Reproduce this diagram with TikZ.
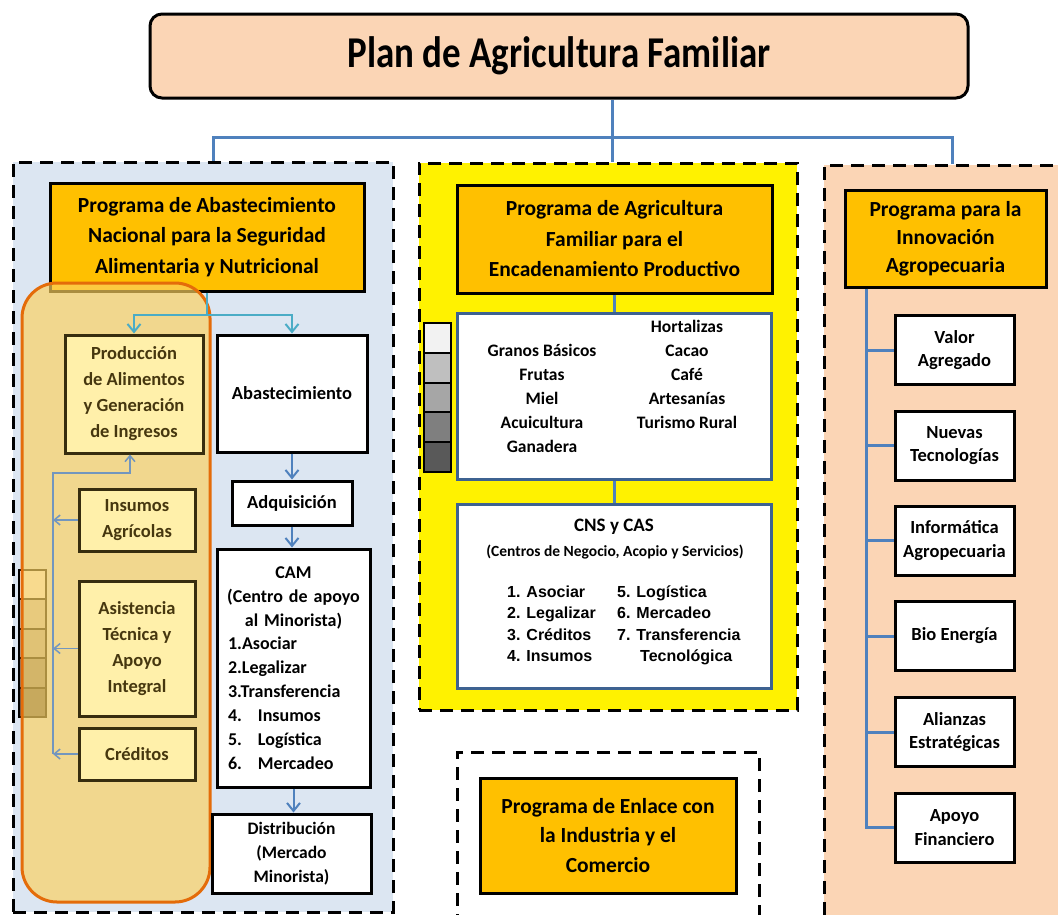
\documentclass[tikz,border=0pt]{standalone}
\usepackage{fontspec}
\setmainfont{Carlito}
\newfontfamily\arialf{Liberation Sans}
\usetikzlibrary{arrows.meta}
\definecolor{peach}{RGB}{251,213,181}
\definecolor{pblue}{RGB}{220,230,242}
\definecolor{hdr}{RGB}{255,192,0}
\definecolor{sblue}{RGB}{79,129,189}
\definecolor{cblue}{RGB}{75,172,198}
\definecolor{bborder}{RGB}{62,98,145}
\definecolor{ovfill}{RGB}{252,208,95}
\definecolor{ovline}{RGB}{228,108,10}
\definecolor{inbox}{RGB}{255,240,170}
\definecolor{inborder}{RGB}{55,45,15}
\definecolor{intext}{RGB}{70,55,15}
\definecolor{tblue}{RGB}{115,150,190}
\definecolor{g1}{RGB}{242,242,242}
\definecolor{g2}{RGB}{191,191,191}
\definecolor{g3}{RGB}{166,166,166}
\definecolor{g4}{RGB}{127,127,127}
\definecolor{g5}{RGB}{89,89,89}
\begin{document}
\begin{tikzpicture}[x=1pt,y=-1pt,
 panel/.style={draw=black, line width=3pt, dash pattern=on 13pt off 8pt, inner sep=0pt},
 hbox/.style={draw=black, line width=3pt, fill=hdr, align=center, inner sep=0pt, font=\bfseries\fontsize{21.5}{30.5}\selectfont},
 wbox/.style={draw=black, line width=3pt, fill=white, align=center, inner sep=0pt, font=\bfseries\fontsize{18.5}{23.5}\selectfont},
 ibox/.style={draw=inborder, line width=3pt, fill=inbox, align=center, inner sep=0pt, text=intext, font=\bfseries\fontsize{18.5}{26}\selectfont},
 lbox/.style={draw=bborder, line width=3pt, fill=white, inner sep=0pt},
 sq/.style={draw=black, line width=2pt, minimum width=27pt, minimum height=29.6pt, inner sep=0pt},
 txt/.style={align=center, inner sep=0pt, font=\bfseries\fontsize{17.5}{24}\selectfont},
 ltxt/.style={align=left, anchor=west, inner sep=0pt, font=\arialf\bfseries\fontsize{16}{21.5}\selectfont},
 conn/.style={draw=sblue, line width=3pt},
 arrB/.style={draw=sblue, line width=2pt, -{Straight Barb[length=8pt,width=13pt,line width=2pt]}},
 arrC/.style={draw=cblue, line width=2pt, -{Straight Barb[length=8pt,width=13pt,line width=2pt]}},
 arrT/.style={draw=tblue, line width=1.5pt, -{Straight Barb[length=6pt,width=10pt,line width=1.5pt]}}
]
\useasboundingbox (0,0) rectangle (1058,914);
\clip (0,0) rectangle (1058,914);

% panels
\node[panel, fill=pblue, minimum width=380pt, minimum height=750pt] (lp) at (203,537) {};
\node[panel, fill=yellow, minimum width=378pt, minimum height=547pt] (mp) at (608,436.5) {};
\node[panel, fill=peach, minimum width=260pt, minimum height=780pt] (rp) at (954,555) {};
\node[panel, minimum width=302pt, minimum height=200pt] (bp) at (608,852) {};

% title and bus
\node[draw=black, line width=3pt, fill=peach, rounded corners=12pt, minimum width=818pt, minimum height=84pt, inner sep=0pt, font=\bfseries\fontsize{44}{50}\selectfont] (title) at (559,56) {\scalebox{0.84}[1]{Plan de Agricultura Familiar}};
\coordinate (busL) at (213,137);
\coordinate (busM) at (612,137);
\coordinate (busR) at (952,137);
\draw[conn] (title.south -| busM) -- (busM |- mp.north);
\draw[conn] (busL |- lp.north) -- (busL) -- (busR) -- (busR |- rp.north);

% left panel
\node[hbox, minimum width=314pt, minimum height=108pt] (lh) at (207,237) {Programa de Abastecimiento\\Nacional para la Seguridad\\Alimentaria y Nutricional};
\node[sq, fill=g1] (ls1) at (32.5,584.7) {};
\node[sq, fill=g2] (ls2) at (32.5,614.1) {};
\node[sq, fill=g3] (ls3) at (32.5,643.5) {};
\node[sq, fill=g4] (ls4) at (32.5,672.9) {};
\node[sq, fill=g5] (ls5) at (32.5,702.3) {};
\node[draw=ovline, line width=3pt, fill=ovfill, fill opacity=0.68, rounded corners=35pt, minimum width=188pt, minimum height=619pt, inner sep=0pt] (ovl) at (116,592.5) {};

\node[ibox, minimum width=138pt, minimum height=118pt] (prod) at (134,394) {Producción\\de Alimentos\\y Generación\\de Ingresos};
\node[ibox, minimum width=116pt, minimum height=62pt] (ins) at (137,520) {Insumos\\Agrícolas};
\node[ibox, minimum width=116pt, minimum height=135pt] (asis) at (137,648.5) {Asistencia\\Técnica y\\Apoyo\\Integral};
\node[ibox, minimum width=116pt, minimum height=52pt] (cred) at (137,754) {Créditos};

\coordinate (trk) at (53,473);
\draw[arrT] (ins.west) -- (ins.west -| trk);
\draw[arrT] (asis.west) -- (asis.west -| trk);
\draw[arrT] (cred.west) -- (cred.west -| trk);
\draw[arrT] (cred.west -| trk) -- (trk) -| ([xshift=-4pt]prod.south);

\node[wbox, minimum width=150pt, minimum height=117pt] (abast) at (292,393.5) {Abastecimiento};
\node[wbox, minimum width=120pt, minimum height=44pt] (adq) at (292,503) {Adquisición};
\node[wbox, minimum width=153pt, minimum height=238pt, text width=131pt, align=left, font=\bfseries\fontsize{18}{23.9}\selectfont] (cam) at (293.5,668) {\makebox[131pt][c]{CAM}\\\makebox[131pt][c]{(Centro de apoyo}\\\makebox[131pt][c]{al Minorista)}\\1.Asociar\\2.Legalizar\\3.Transferencia\\\makebox[30pt][l]{4.}Insumos\\\makebox[30pt][l]{5.}Logística\\\makebox[30pt][l]{6.}Mercadeo};
\node[wbox, minimum width=159pt, minimum height=79pt, font=\bfseries\fontsize{17.5}{24}\selectfont] (dist) at (291.5,853.5) {Distribución\\(Mercado\\Minorista)};

\draw[arrB] (abast.south) -- (adq.north);
\draw[arrB] (adq.south) -- (adq.south |- cam.north);
\draw[arrB] (cam.south) -- (cam.south |- dist.north);

\draw[arrC] (lh.south) -- ++(0,22) coordinate (split) -| (prod.north);
\draw[arrC] (split) -| (abast.north);

% middle panel
\node[hbox, minimum width=315pt, minimum height=108pt] (mh) at (614.5,239) {Programa de Agricultura\\Familiar para el\\Encadenamiento Productivo};
\node[lbox, minimum width=314pt, minimum height=166pt] (lst) at (614,396) {};
\node[lbox, minimum width=314pt, minimum height=184pt] (cns) at (614,596) {};
\draw[conn] (mh.south) -- (mh.south |- lst.north);
\draw[conn] (lst.south) -- (lst.south |- cns.north);
\node[sq, fill=g1] (ms1) at (437.5,338) {};
\node[sq, fill=g2] (ms2) at (437.5,367.7) {};
\node[sq, fill=g3] (ms3) at (437.5,397.4) {};
\node[sq, fill=g4] (ms4) at (437.5,427.1) {};
\node[sq, fill=g5] (ms5) at (437.5,456.8) {};
\node[txt] (colL) at (542,398) {Granos Básicos\\Frutas\\Miel\\Acuicultura\\Ganadera};
\node[txt] (colR) at (687,374) {Hortalizas\\Cacao\\Café\\Artesanías\\Turismo Rural};
\node[txt, font=\bfseries\fontsize{19}{24}\selectfont] (cnsT) at (614,527) {CNS y CAS};
\node[txt, font=\bfseries\fontsize{15.5}{20}\selectfont] (cnsS) at (615,552) {(Centros de Negocio, Acopio y Servicios)};
\node[ltxt] (cnsL) at (507,624) {1. Asociar\\2. Legalizar\\3. Créditos\\4. Insumos};
\node[ltxt] (cnsR) at (617,625.5) {5. Logística\\6. Mercadeo\\7. Transferencia\\\hspace*{23pt}Tecnológica};

% right panel
\node[hbox, minimum width=201pt, minimum height=97pt, font=\bfseries\fontsize{21.5}{28}\selectfont] (rh) at (945.5,238.5) {Programa para la\\Innovación\\Agropecuaria};
\node[wbox, minimum width=119pt, minimum height=69pt] (va) at (954.5,350) {Valor\\Agregado};
\node[wbox, minimum width=119pt, minimum height=69pt] (nt) at (954.5,445.5) {Nuevas\\Tecnologías};
\node[wbox, minimum width=119pt, minimum height=69pt] (ia) at (954.5,540.5) {Informática\\Agropecuaria};
\node[wbox, minimum width=119pt, minimum height=69pt] (be) at (954.5,636) {Bio Energía};
\node[wbox, minimum width=119pt, minimum height=69pt] (ae) at (954.5,732) {Alianzas\\Estratégicas};
\node[wbox, minimum width=119pt, minimum height=69pt] (af) at (954.5,827.5) {Apoyo\\Financiero};
\coordinate (rtx) at (866,287);
\draw[conn] (rh.south -| rtx) |- (af.west);
\foreach \n in {va,nt,ia,be,ae} \draw[conn] (\n.west -| rtx) -- (\n.west);

% bottom panel
\node[hbox, minimum width=256pt, minimum height=115pt, font=\bfseries\fontsize{21.5}{29.5}\selectfont] (bh) at (608,835.5) {Programa de Enlace con\\la Industria y el\\Comercio};
\end{tikzpicture}
\end{document}
